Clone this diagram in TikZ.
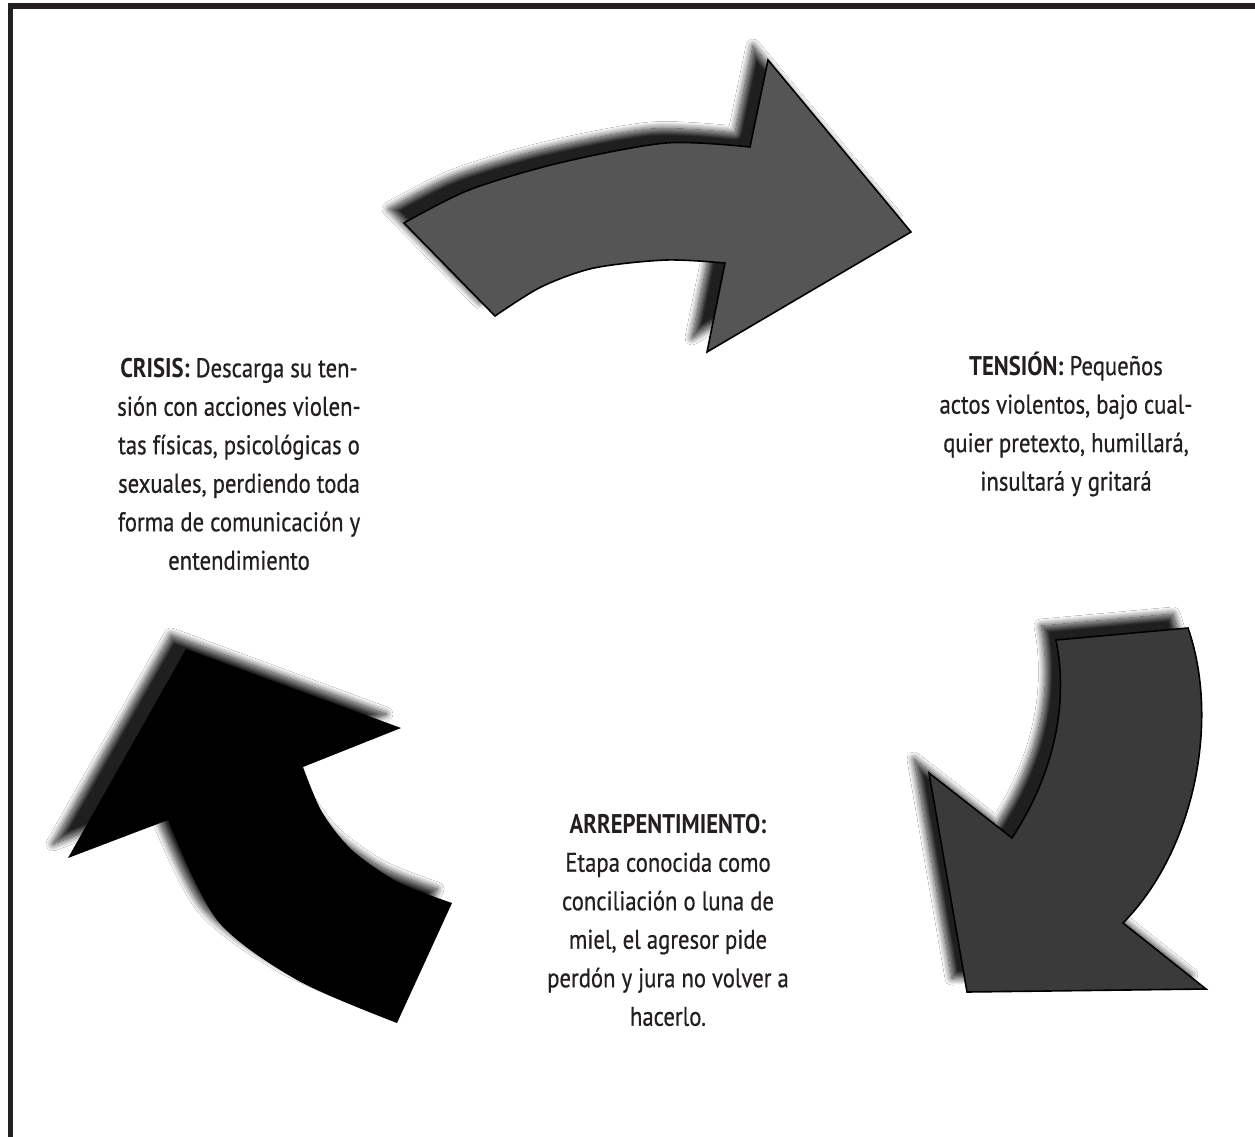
\documentclass[tikz,border=0pt]{standalone}
\usepackage{fontspec}
\setmainfont[FakeStretch=0.84,UprightFeatures={FakeBold=0.6}]{PT Sans}
\usetikzlibrary{shadows.blur}
\definecolor{ink}{HTML}{231F20}
\definecolor{arrowA}{HTML}{555555}
\definecolor{arrowB}{HTML}{3A3A3A}
\tikzset{
  shad/.style={blur shadow={shadow xshift=-15pt, shadow yshift=14pt, shadow blur radius=7pt, shadow opacity=88, shadow blur steps=14}},
  arrowtop/.style={fill=arrowA, draw=black, line width=1.6pt, line join=miter, shad},
  arrowright/.style={fill=arrowB, draw=black, line width=1.6pt, line join=miter, shad},
  arrowleft/.style={fill=black, shad},
  stagetext/.style={align=center, text=ink, font=\fontsize{27}{38.5}\selectfont, inner sep=0pt}
}
\begin{document}
\begin{tikzpicture}[x=1pt,y=-1pt]
\useasboundingbox (0,0) rectangle (1255,1137);
\fill[white] (0,0) rectangle (1255,1137);
% frame
\fill[ink] (8,3) rectangle (1255,9);
\fill[ink] (8,3) rectangle (13,1137);
% top arrow
\path[arrowtop] (404,223) -- (495,316)
  -- plot[smooth] coordinates {(495,316) (541,287) (594,268) (666,260) (725,263)}
  -- (707,352) -- (911,232) -- (768,60) -- (750,147)
  -- plot[smooth] coordinates {(750,147) (666,143) (559,163) (469,190) (404,223)}
  -- cycle;
% right arrow
\path[arrowright] (1056,640) -- (1188,628)
  .. controls (1220,720) and (1195,850) .. (1123,923)
  -- (1206,989) -- (967,992) -- (929,773) -- (1012,838)
  .. controls (1050,780) and (1070,710) .. (1056,640)
  -- cycle;
% left arrow
\path[arrowleft] (186,649) -- (401,728) -- (303,767)
  -- plot[smooth] coordinates {(303,767) (322,812) (352,850) (398,882) (452,903)}
  -- (397,1023)
  -- plot[smooth] coordinates {(397,1023) (297,980) (217,920) (168,820)}
  -- (68,858) -- cycle;
% texts
\node[stagetext] (crisis) at (239,464) {\textbf{CRISIS:} Descarga su ten-\\sión con acciones violen-\\tas físicas, psicológicas o\\sexuales, perdiendo toda\\forma de comunicación y\\entendimiento};
\node[stagetext] (tension) at (1066,424) {\textbf{TENSIÓN:} Pequeños\\actos violentos, bajo cual-\\quier pretexto, humillará,\\insultará y gritará};
\node[stagetext] (arrep) at (668,920) {\textbf{ARREPENTIMIENTO:}\\Etapa conocida como\\conciliación o luna de\\miel, el agresor pide\\perdón y jura no volver a\\hacerlo.};
\end{tikzpicture}
\end{document}
